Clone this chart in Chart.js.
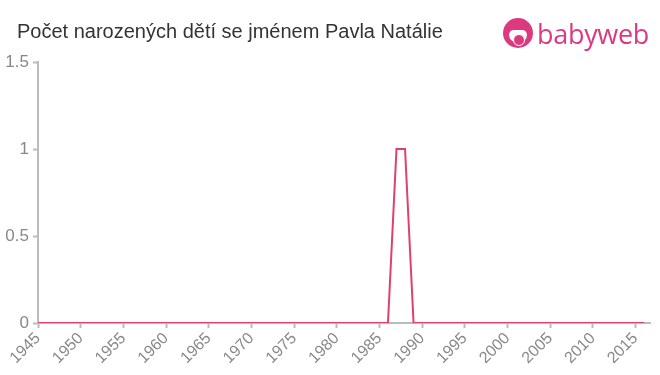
<!DOCTYPE html>
<html>
<head>
<meta charset="utf-8">
<script src="https://cdn.jsdelivr.net/npm/chart.js@4"></script>
<style>
  body { margin: 0; background: #fff; font-family: Arial, "Liberation Sans", sans-serif; }
  #wrap { position: relative; width: 660px; height: 375px; }
  #title { position: absolute; left: 17px; top: 20px; font-size: 20px; color: #333; }
  #logo { position: absolute; left: 503px; top: 18px; height: 32px; }
  #logo .face { position: absolute; left: 0; top: 0; width: 30px; height: 30px; border-radius: 50%; background: #dc3a80; }
  #logo .face:before { content: ''; position: absolute; left: 6px; top: 12px; width: 18px; height: 12px; border-radius: 6px 6px 9px 9px; background: #fff; }
  #logo .face:after { content: ''; position: absolute; left: 10px; top: 16px; width: 10px; height: 10px; border-radius: 50%; background: #dc3a80; border: 1px solid #fff; }
  #logo .txt { position: absolute; left: 34px; top: -3px; font-size: 27px; font-family: "Open Sans", Arial, sans-serif; font-weight: 500; color: #dc3a80; letter-spacing: -0.3px; }
</style>
</head>
<body>
<div id="wrap">
  <canvas id="chart" width="660" height="375"></canvas>
  <div id="title">Počet narozených dětí se jménem Pavla Natálie</div>
  <div id="logo"><div class="face"></div><span class="txt">babyweb</span></div>
</div>
<script>
// years 1945..2016
const years = [];
for (let y = 1945; y <= 2016; y++) years.push(y);
const births = [
    0, 0, 0, 0, 0, 0, 0, 0, 0, 0, // 1945-1954
    0, 0, 0, 0, 0, 0, 0, 0, 0, 0, // 1955-1964
    0, 0, 0, 0, 0, 0, 0, 0, 0, 0, // 1965-1974
    0, 0, 0, 0, 0, 0, 0, 0, 0, 0, // 1975-1984
    0, 0, 1, 1, 0, 0, 0, 0, 0, 0, // 1985-1994
    0, 0, 0, 0, 0, 0, 0, 0, 0, 0, // 1995-2004
    0, 0, 0, 0, 0, 0, 0, 0, 0, 0, // 2005-2014
    0, 0                          // 2015-2016
];
const xTicks = [1945, 1950, 1955, 1960, 1965, 1970, 1975, 1980, 1985, 1990, 1995, 2000, 2005, 2010, 2015];
const yTicks = [0, 0.5, 1, 1.5];

const ctx = document.getElementById('chart').getContext('2d');
new Chart(ctx, {
    type: 'line',
    data: {
        datasets: [{
            data: years.map((y, i) => ({ x: y, y: births[i] })),
            borderColor: '#e0406e',
            borderWidth: 2,
            pointRadius: 0,
            tension: 0,
            fill: false
        }]
    },
    options: {
        responsive: false,
        animation: false,
        layout: { padding: { top: 62, right: 10, left: 0, bottom: 0 } },
        plugins: { legend: { display: false }, tooltip: { enabled: false } },
        scales: {
            x: {
                type: 'linear',
                min: 1945,
                max: 2016.7,
                afterFit: s => { s.height = 52; },
                afterBuildTicks: s => { s.ticks = xTicks.map(v => ({ value: v })); },
                grid: { display: true, drawOnChartArea: false, drawTicks: true, tickLength: 5, tickColor: '#bbb', tickWidth: 2 },
                border: { color: '#bbb', width: 2 },
                ticks: {
                    color: '#888',
                    font: { size: 16, family: 'Arial, "Liberation Sans", sans-serif' },
                    minRotation: 45,
                    maxRotation: 45,
                    padding: 1,
                    callback: v => String(v)
                }
            },
            y: {
                min: 0,
                max: 1.5,
                afterFit: s => { s.width = 38; },
                afterBuildTicks: s => { s.ticks = yTicks.map(v => ({ value: v })); },
                grid: { display: true, drawOnChartArea: false, drawTicks: true, tickLength: 5, tickColor: '#bbb', tickWidth: 2 },
                border: { color: '#bbb', width: 2 },
                ticks: {
                    color: '#888',
                    font: { size: 17, family: 'Arial, "Liberation Sans", sans-serif' },
                    padding: 4,
                    callback: v => String(v)
                }
            }
        }
    }
});
</script>
</body>
</html>
